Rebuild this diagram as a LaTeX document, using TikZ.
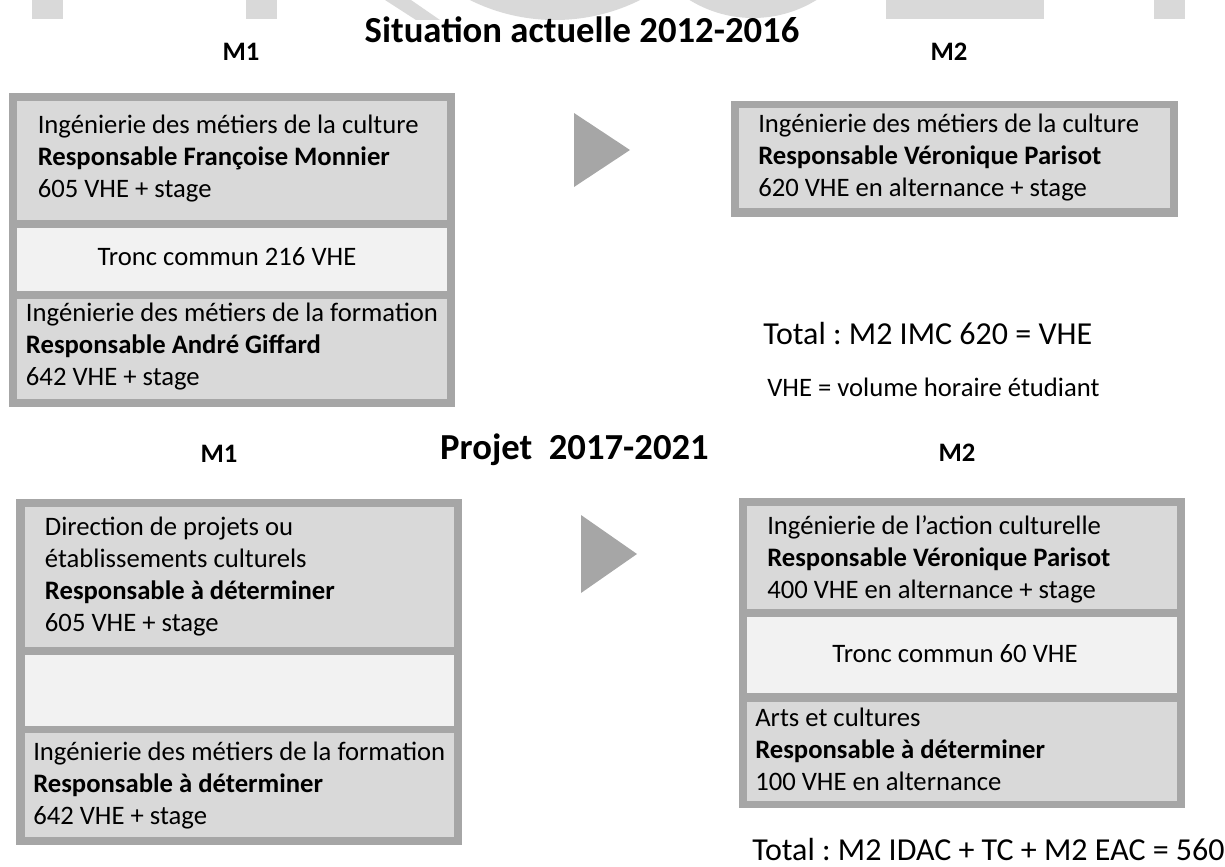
\documentclass[tikz,border=0pt]{standalone}
\usepackage{fontspec}
\setmainfont{Carlito}
\usepackage{xcolor}
\usepackage{tikz}
\usetikzlibrary{positioning}
\definecolor{framegray}{HTML}{A6A6A6}
\definecolor{boxgray}{HTML}{D9D9D9}
\definecolor{trgray}{HTML}{F2F2F2}
\frenchspacing
\tikzset{
  body/.style={align=left, anchor=west, inner sep=0pt, font=\fontsize{20}{24}\selectfont},
  tronc/.style={inner sep=0pt, font=\fontsize{20}{24}\selectfont},
  head/.style={inner sep=0pt, font=\bfseries\fontsize{27.5}{33}\selectfont},
  level/.style={inner sep=0pt, font=\bfseries\fontsize{20}{24}\selectfont},
  total/.style={anchor=west, inner sep=0pt, font=\fontsize{24}{29}\selectfont},
}

\begin{document}
\begin{tikzpicture}[x=0.75pt,y=-0.75pt]
    \useasboundingbox (0,0) rectangle (1225,867);
    % Watermark pieces at the top edge
    \begin{scope}
        \clip (0,0) rectangle (1225,867);
        \fill[boxgray] (31.6,0) rectangle (62.5,19);
        \fill[boxgray] (246,0) rectangle (277,19);
        \fill[boxgray] (385,0) -- (411,0) -- (440,20) -- (416,20) -- cycle;
        \fill[boxgray] (555,-171) circle (191);
        \fill[boxgray] (753,-103) circle (121);
        \fill[boxgray] (886,0) rectangle (1044,19);
        \fill[boxgray] (1154,0) rectangle (1185,19);
    \end{scope}

    % Situation actuelle
    \node[head] (sit) at (582,30) {Situation actuelle 2012-2016};
    \node[level] (m1a) at (241,52) {M1};
    \node[level] (m2a) at (949,52) {M2};

    \fill[framegray] (9,93) rectangle (455,407); % M1 frame
    \fill[boxgray] (16.6,101) rectangle (447,220);
    \fill[trgray] (16.6,228) rectangle (447,291);
    \fill[boxgray] (16.6,299) rectangle (447,399);
    \node[body] (imc1) at (37.5,159) {Ingénierie des métiers de la culture\\
        \textbf{Responsable Françoise Monnier}\\605 VHE + stage};
    \node[tronc] (tc1) at (227,257) {Tronc commun 216 VHE};
    \node[body] (imf1) at (25.7,347) {Ingénierie des métiers de la formation\\
        \textbf{Responsable André Giffard}\\642 VHE + stage};

    \fill[framegray] (574,113) -- (630,150) -- (574,187) -- cycle; % Arrow

    \fill[framegray] (731,101) rectangle (1178,217); % M2 frame
    \fill[boxgray] (739,108) rectangle (1170,208);
    \node[body] (imc2) at (758,158) {Ingénierie des métiers de la culture\\
        \textbf{Responsable Véronique Parisot}\\620 VHE en alternance + stage};

    \node[total] (tot1) at (763,334) {Total : M2 IMC 620 = VHE};
    \node[body] (vhe) at (767,387) {VHE = volume horaire étudiant};

    % Projet
    \node[head] (proj) at (574.5,450) {Projet\ \ 2017-2021};
    \node[level] (m1b) at (219,454) {M1};
    \node[level] (m2b) at (957,453) {M2};

    \fill[framegray] (16,499) rectangle (462,845); % M1 frame
    \fill[boxgray] (24.5,507) rectangle (454,647);
    \fill[trgray] (24.5,655) rectangle (454,726);
    \fill[boxgray] (24.5,733) rectangle (454,837);
    \node[body] (dir) at (44.7,577) {Direction de projets ou\\établissements culturels\\
        \textbf{Responsable à déterminer}\\605 VHE + stage};
    \node[body] (imf2) at (33,786) {Ingénierie des métiers de la formation\\
        \textbf{Responsable à déterminer}\\642 VHE + stage};

    \fill[framegray] (581,515) -- (637,554) -- (581,593) -- cycle; % Arrow

    \fill[framegray] (739,498) rectangle (1185,808); % M2 frame
    \fill[boxgray] (746.6,506) rectangle (1177,609);
    \fill[trgray] (746.6,617) rectangle (1177,693);
    \fill[boxgray] (746.6,702) rectangle (1177,801);
    \node[body] (idac) at (767,559) {Ingénierie de l’action culturelle\\
        \textbf{Responsable Véronique Parisot}\\400 VHE en alternance + stage};
    \node[tronc] (tc2) at (955,654) {Tronc commun 60 VHE};
    \node[body] (eac) at (755,749) {Arts et cultures\\
        \textbf{Responsable à déterminer}\\100 VHE en alternance};

    \node[total] (tot2) at (752,850) {Total : M2 IDAC + TC + M2 EAC = 560};
\end{tikzpicture}
\end{document}
